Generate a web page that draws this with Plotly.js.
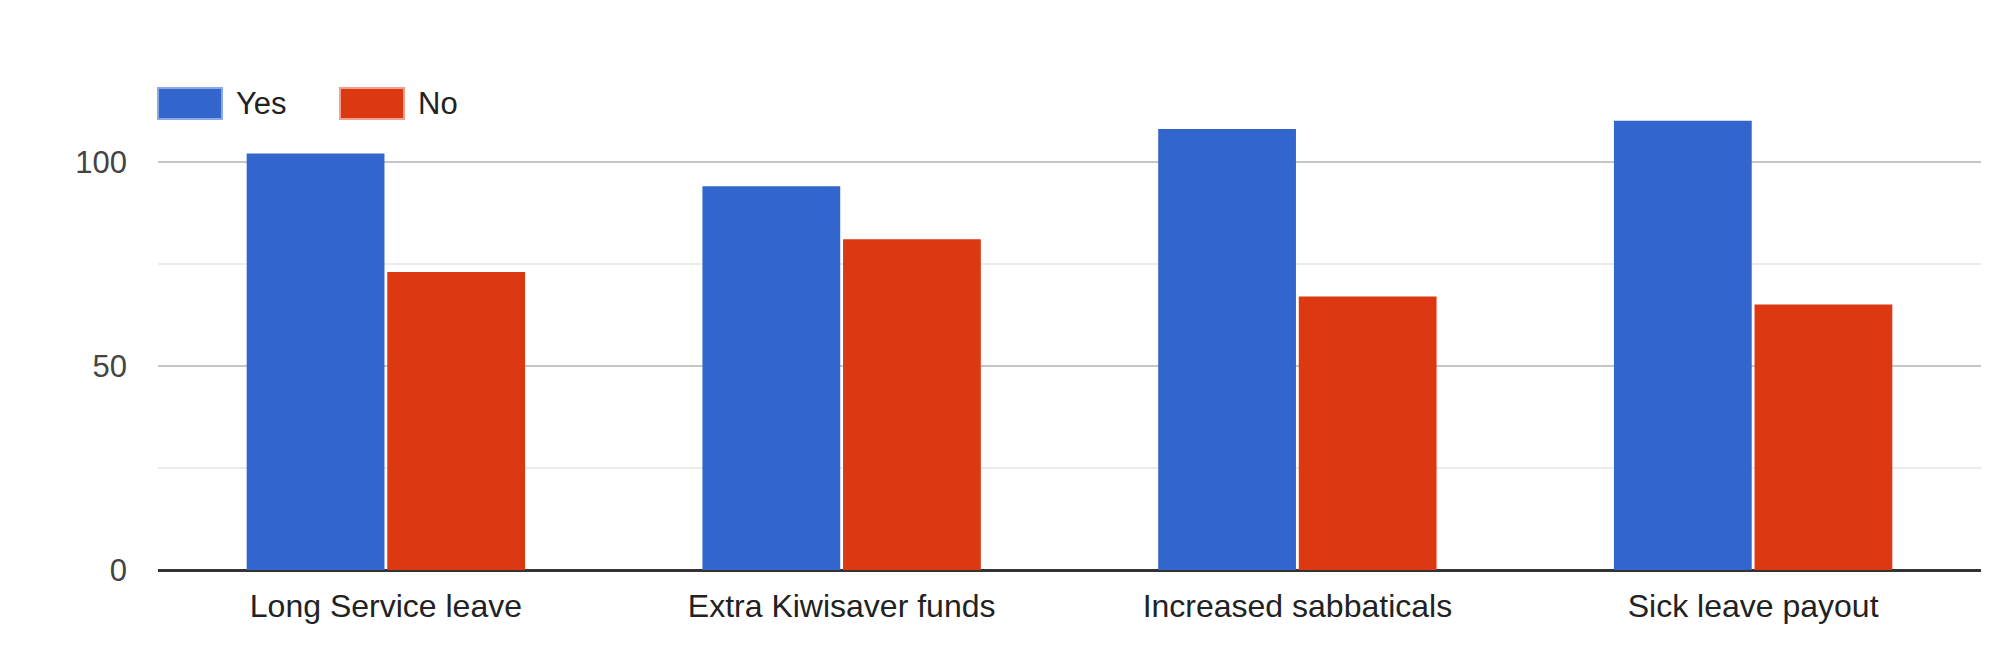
<!DOCTYPE html>
<html>
<head>
<meta charset="utf-8">
<script src="https://cdn.plot.ly/plotly-3.0.1.min.js"></script>
<style>
html,body{margin:0;padding:0;background:#fff;}
#chart{width:2000px;height:655px;}
</style>
</head>
<body>
<div id="chart"></div>
<script>
const categories = ["Long Service leave", "Extra Kiwisaver funds", "Increased sabbaticals", "Sick leave payout"];
const seriesNames = ["Yes", "No"];
const yesValues = [102, 94, 108, 110];
const noValues = [73, 81, 67, 65];
const yTickVals = [0, 50, 100];

const colors = ["#3366cc", "#dc3912"];
const swatchBorders = ["#8aa8e6", "#f0a08c"];
const fontFamily = "Arial, 'Liberation Sans', sans-serif";

const W = 2000, H = 655;
const M = {l: 158, r: 19, t: 80, b: 85};
const px2x = p => (p - M.l) / (W - M.l - M.r);
const px2y = p => (H - M.b - p) / (H - M.t - M.b);

const traces = [yesValues, noValues].map((vals, i) => ({
  type: "bar",
  name: seriesNames[i],
  x: categories,
  y: vals,
  marker: {color: colors[i], line: {width: 0}},
  hoverinfo: "x+y+name"
}));

// custom legend (swatches + labels)
const legendSwatchX = [158, 340];
const shapes = [];
const annotations = [];
seriesNames.forEach((name, i) => {
  shapes.push({
    type: "rect", xref: "paper", yref: "paper",
    x0: px2x(legendSwatchX[i]), x1: px2x(legendSwatchX[i] + 64),
    y0: px2y(119), y1: px2y(88),
    fillcolor: colors[i],
    line: {color: swatchBorders[i], width: 2}
  });
  annotations.push({
    xref: "paper", yref: "paper",
    x: px2x(legendSwatchX[i] + 76), y: px2y(103.5),
    xanchor: "left", yanchor: "middle",
    text: name, showarrow: false,
    font: {family: fontFamily, size: 31, color: "#222"}
  });
});

const layout = {
  width: W, height: H,
  margin: M,
  paper_bgcolor: "#fff",
  plot_bgcolor: "#fff",
  showlegend: false,
  barmode: "group",
  bargap: 0.383,
  bargroupgap: 0.02,
  font: {family: fontFamily, size: 32, color: "#222"},
  xaxis: {
    type: "category",
    showgrid: false,
    showline: false,
    ticks: "",
    ticklabelstandoff: 14,
    tickfont: {family: fontFamily, size: 32, color: "#222"}
  },
  yaxis: {
    range: [0, 120],
    tickmode: "array",
    tickvals: yTickVals,
    ticktext: yTickVals.map(String),
    showgrid: true,
    gridcolor: "#c6c6c6",
    gridwidth: 2,
    zeroline: true,
    zerolinecolor: "#333",
    zerolinewidth: 3,
    showline: false,
    ticks: "",
    ticklabelstandoff: 30,
    tickfont: {family: fontFamily, size: 31, color: "#444"},
    minor: {dtick: 25, tick0: 0, showgrid: true, gridcolor: "#ebebeb", gridwidth: 2, ticks: ""}
  },
  shapes: shapes,
  annotations: annotations
};

Plotly.newPlot("chart", traces, layout, {displayModeBar: false, staticPlot: true});
</script>
</body>
</html>
